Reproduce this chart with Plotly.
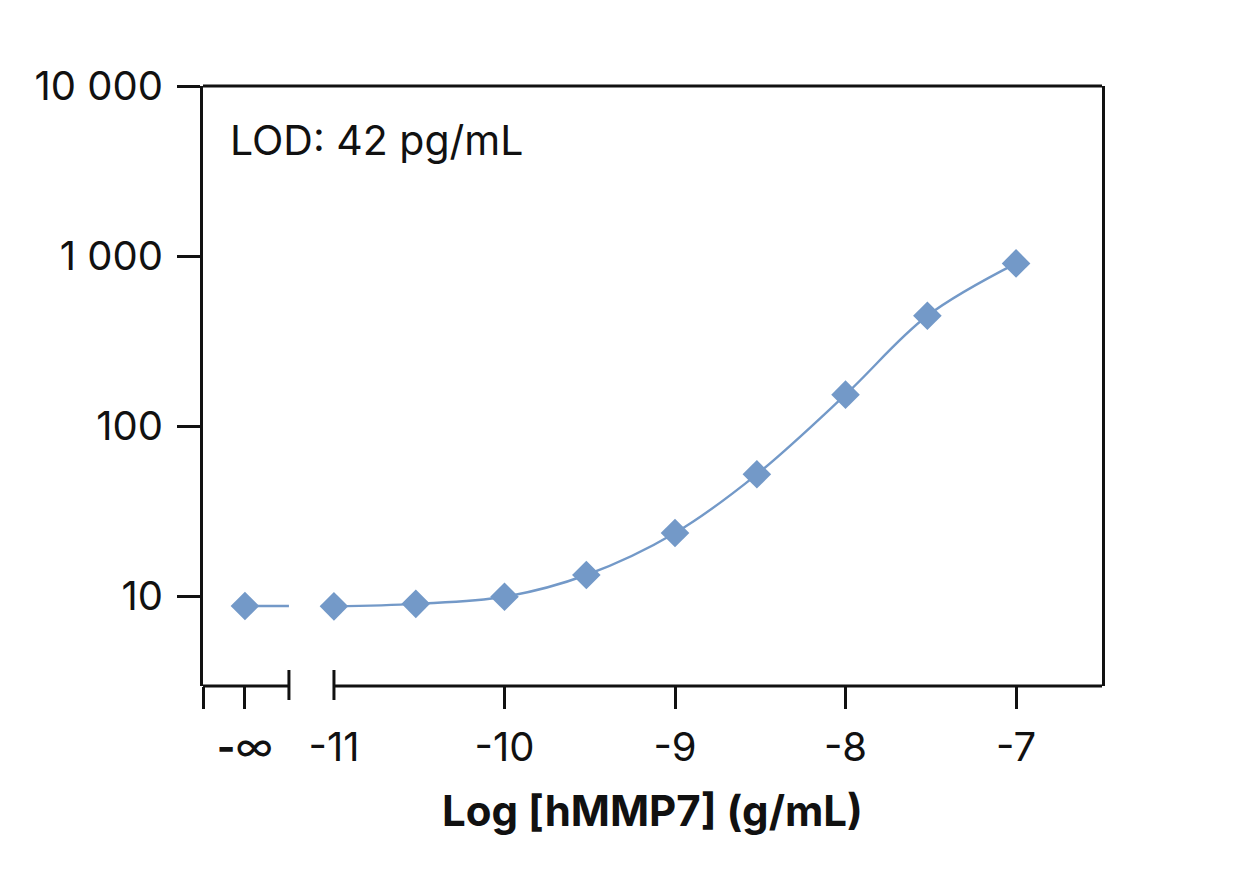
import plotly.graph_objects as go

# ---- data ----
log_conc = [-11, -10.52, -10, -9.52, -9, -8.52, -8, -7.52, -7]
signal = [8.7, 9.0, 9.9, 13.3, 23.5, 52, 153, 445, 905]
blank_x = -11.522          # position of the "-inf" (blank) point
blank_signal = 8.74
break_x = -11.264          # end of left axis segment
x_tick_vals = [blank_x, -11, -10, -9, -8, -7]
x_tick_text = ["<b>-</b>∞", "-11", "-10", "-9", "-8", "-7"]
y_tick_vals = [10, 100, 1000, 10000]
y_tick_text = ["10", "100", "1 000", "10 000"]
x_range = [-11.768, -6.496]
y_range_log = [0.471, 4.0]

COLOR = "#7399c8"
FONT = "Inter"
BLACK = "#111111"

fig = go.Figure()

# blank segment
fig.add_trace(go.Scatter(x=[blank_x, break_x], y=[blank_signal, blank_signal],
                         mode="lines", line=dict(color=COLOR, width=2.4),
                         hoverinfo="skip", showlegend=False))
fig.add_trace(go.Scatter(x=[blank_x], y=[blank_signal], mode="markers",
                         marker=dict(symbol="diamond", size=22, color=COLOR),
                         showlegend=False))
# fitted curve (spline) + points
fig.add_trace(go.Scatter(x=log_conc, y=signal, mode="lines",
                         line=dict(color=COLOR, width=2.4, shape="spline", smoothing=1.0),
                         hoverinfo="skip", showlegend=False))
fig.add_trace(go.Scatter(x=log_conc, y=signal, mode="markers",
                         marker=dict(symbol="diamond", size=22, color=COLOR),
                         showlegend=False))
# invisible trace on xaxis2 for tick marks
fig.add_trace(go.Scatter(x=[x_range[0]], y=[10], xaxis="x2", mode="markers",
                         marker=dict(opacity=0), hoverinfo="skip", showlegend=False))

fig.update_layout(
    width=1256, height=879,
    margin=dict(l=203, r=154, t=86, b=193),
    paper_bgcolor="white", plot_bgcolor="white",
    font=dict(family=FONT, size=40, color=BLACK),
    xaxis=dict(range=x_range, tickmode="array", tickvals=x_tick_vals, ticktext=x_tick_text,
               ticks="", showline=False, showgrid=False, zeroline=False,
               tickfont=dict(size=40, family=FONT, color=BLACK),
               ticklabelstandoff=34,
               title=dict(text="<b>Log [hMMP7] (g/mL)</b>", standoff=26,
                          font=dict(size=42, family=FONT, color=BLACK))),
    xaxis2=dict(range=x_range, overlaying="x", anchor="y", side="bottom",
                tickmode="array", tickvals=[x_range[0], blank_x, -10, -9, -8, -7],
                ticks="outside", ticklen=22, tickwidth=3, tickcolor=BLACK,
                showticklabels=False, showline=False, showgrid=False, zeroline=False),
    yaxis=dict(type="log", range=y_range_log, tickmode="array", tickvals=y_tick_vals,
               ticktext=y_tick_text, ticks="outside", ticklen=23, tickwidth=3,
               tickcolor=BLACK, showline=True, linecolor=BLACK, linewidth=3, mirror=True,
               showgrid=False, zeroline=False, ticklabelstandoff=6,
               tickfont=dict(size=40, family=FONT, color=BLACK)),
    annotations=[dict(text="LOD: 42 pg/mL", xref="paper", yref="paper", x=0.028, y=0.91,
                      xanchor="left", yanchor="middle", showarrow=False,
                      font=dict(size=41, family=FONT, color=BLACK))],
    shapes=[
        # top frame line
        dict(type="line", xref="paper", yref="paper", x0=0, x1=1, y0=1, y1=1,
             line=dict(color=BLACK, width=3)),
        # bottom axis: left segment
        dict(type="line", xref="x", yref="paper", x0=x_range[0], x1=break_x, y0=0, y1=0,
             line=dict(color=BLACK, width=3)),
        # bottom axis: right segment
        dict(type="line", xref="x", yref="paper", x0=-11, x1=x_range[1], y0=0, y1=0,
             line=dict(color=BLACK, width=3)),
        # break caps
        dict(type="line", xref="x", yref="paper", x0=break_x, x1=break_x, y0=0.0267, y1=-0.0233,
             line=dict(color=BLACK, width=3)),
        dict(type="line", xref="x", yref="paper", x0=-11, x1=-11, y0=0.0267, y1=-0.0233,
             line=dict(color=BLACK, width=3)),
    ],
)

fig.write_html("out.html")
